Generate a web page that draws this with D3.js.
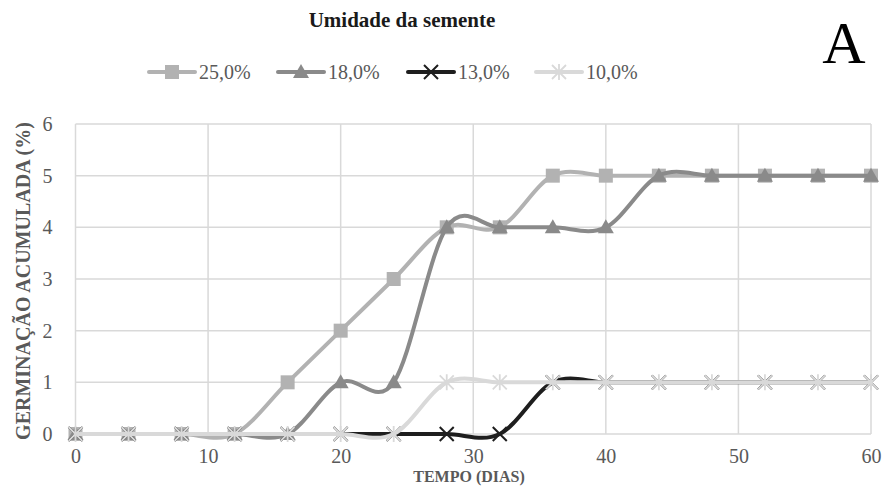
<!DOCTYPE html>
<html><head><meta charset="utf-8">
<script src="https://cdn.jsdelivr.net/npm/d3@7"></script>
<style>body{margin:0;background:#fff}svg{display:block}text{font-family:"Liberation Serif","Times New Roman",serif}</style>
</head><body>
<svg id="c" width="884" height="486"></svg>
<script>
const days = [0,4,8,12,16,20,24,28,32,36,40,44,48,52,56,60];
const s25 = [0,0,0,0,1,2,3,4,4,5,5,5,5,5,5,5];
const s18 = [0,0,0,0,0,1,1,4,4,4,4,5,5,5,5,5];
const s13 = [0,0,0,0,0,0,0,0,0,1,1,1,1,1,1,1];
const s10 = [0,0,0,0,0,0,0,1,1,1,1,1,1,1,1,1];
const seriesNames = ["25,0%","18,0%","13,0%","10,0%"];
const xTicks = [0,10,20,30,40,50,60];
const yTicks = [0,1,2,3,4,5,6];

const series = [
  {name:seriesNames[0], values:s25, color:"#b2b2b2", marker:"square"},
  {name:seriesNames[1], values:s18, color:"#8a8a8a", marker:"triangle"},
  {name:seriesNames[2], values:s13, color:"#1e1e1e", marker:"x"},
  {name:seriesNames[3], values:s10, color:"#d9d9d9", marker:"star"}
];

const svg = d3.select("#c");
const x = d3.scaleLinear().domain([0,60]).range([75.5,871]);
const y = d3.scaleLinear().domain([0,6]).range([434,124]);
const serif = "Liberation Serif";

// grid
const g = svg.append("g");
g.selectAll(".hg").data(yTicks).join("line")
  .attr("x1",x(0)).attr("x2",x(60)).attr("y1",d=>y(d)).attr("y2",d=>y(d))
  .attr("stroke","#d9d9d9").attr("stroke-width",1.5);
g.selectAll(".vg").data(xTicks).join("line")
  .attr("y1",y(0)).attr("y2",y(6)).attr("x1",d=>x(d)).attr("x2",d=>x(d))
  .attr("stroke","#d9d9d9").attr("stroke-width",1.5);

// axes labels via d3 axes
const xAxis = svg.append("g").attr("transform",`translate(0,${y(0)})`)
  .call(d3.axisBottom(x).tickValues(xTicks).tickSize(0).tickPadding(15).tickFormat(d3.format("d")));
const yAxis = svg.append("g").attr("transform",`translate(${x(0)},0)`)
  .call(d3.axisLeft(y).tickValues(yTicks).tickSize(0).tickPadding(23).tickFormat(d3.format("d")));
[xAxis,yAxis].forEach(a=>{
  a.attr("font-family",serif);
  a.select(".domain").remove();
  a.selectAll("text").attr("font-family",serif).attr("font-size",20).attr("fill","#595959");
});

// marker drawing
function drawMarker(sel, type, color){
  if(type==="square"){
    sel.append("rect").attr("x",-7).attr("y",-7).attr("width",14).attr("height",14).attr("fill",color);
  } else if(type==="triangle"){
    sel.append("path").attr("d","M0,-8L8,6L-8,6Z").attr("fill",color);
  } else if(type==="x"){
    sel.append("path").attr("d","M-7,-7L7,7M-7,7L7,-7").attr("stroke",color).attr("stroke-width",2).attr("fill","none");
  } else if(type==="star"){
    sel.append("path").attr("d","M-7,-7L7,7M-7,7L7,-7M0,-8L0,8").attr("stroke",color).attr("stroke-width",1.8).attr("fill","none");
  }
}

const line = d3.line().x((d,i)=>x(days[i])).y(d=>y(d)).curve(d3.curveCardinal.tension(0));
series.forEach(s=>{
  const sg = svg.append("g");
  sg.append("path").datum(s.values).attr("d",line).attr("fill","none")
    .attr("stroke",s.color).attr("stroke-width",4).attr("stroke-linecap","round");
  s.values.forEach((v,i)=>{
    const m = sg.append("g").attr("transform",`translate(${x(days[i])},${y(v)})`);
    drawMarker(m,s.marker,s.color);
  });
});

// title
svg.append("text").attr("x",402).attr("y",27).attr("text-anchor","middle")
  .attr("font-family",serif).attr("font-weight","bold").attr("font-size",21).attr("fill","#1a1a1a")
  .text("Umidade da semente");

// legend
const legX = [149,278,408,536];
series.forEach((s,i)=>{
  const lg = svg.append("g").attr("transform",`translate(${legX[i]},72)`);
  lg.append("line").attr("x1",0).attr("x2",46).attr("stroke",s.color).attr("stroke-width",4).attr("stroke-linecap","round");
  const m = lg.append("g").attr("transform","translate(23,0)");
  drawMarker(m,s.marker,s.color);
  lg.append("text").attr("x",50).attr("y",7).attr("font-family",serif).attr("font-size",20)
    .attr("fill","#595959").text(s.name);
});

// big letter
svg.append("text").attr("x",844).attr("y",63).attr("text-anchor","middle")
  .attr("font-family",serif).attr("font-size",60).attr("fill","#000").text("A");

// axis titles
svg.append("text").attr("transform",`translate(30,${(y(0)+y(6))/2+2}) rotate(-90)`)
  .attr("text-anchor","middle").attr("font-family",serif).attr("font-weight","bold")
  .attr("font-size",20).attr("fill","#595959").text("GERMINAÇÃO ACUMULADA (%)");
svg.append("text").attr("x",469).attr("y",482).attr("text-anchor","middle")
  .attr("font-family",serif).attr("font-weight","bold").attr("font-size",16)
  .attr("fill","#595959").text("TEMPO (DIAS)");
</script>
</body></html>
